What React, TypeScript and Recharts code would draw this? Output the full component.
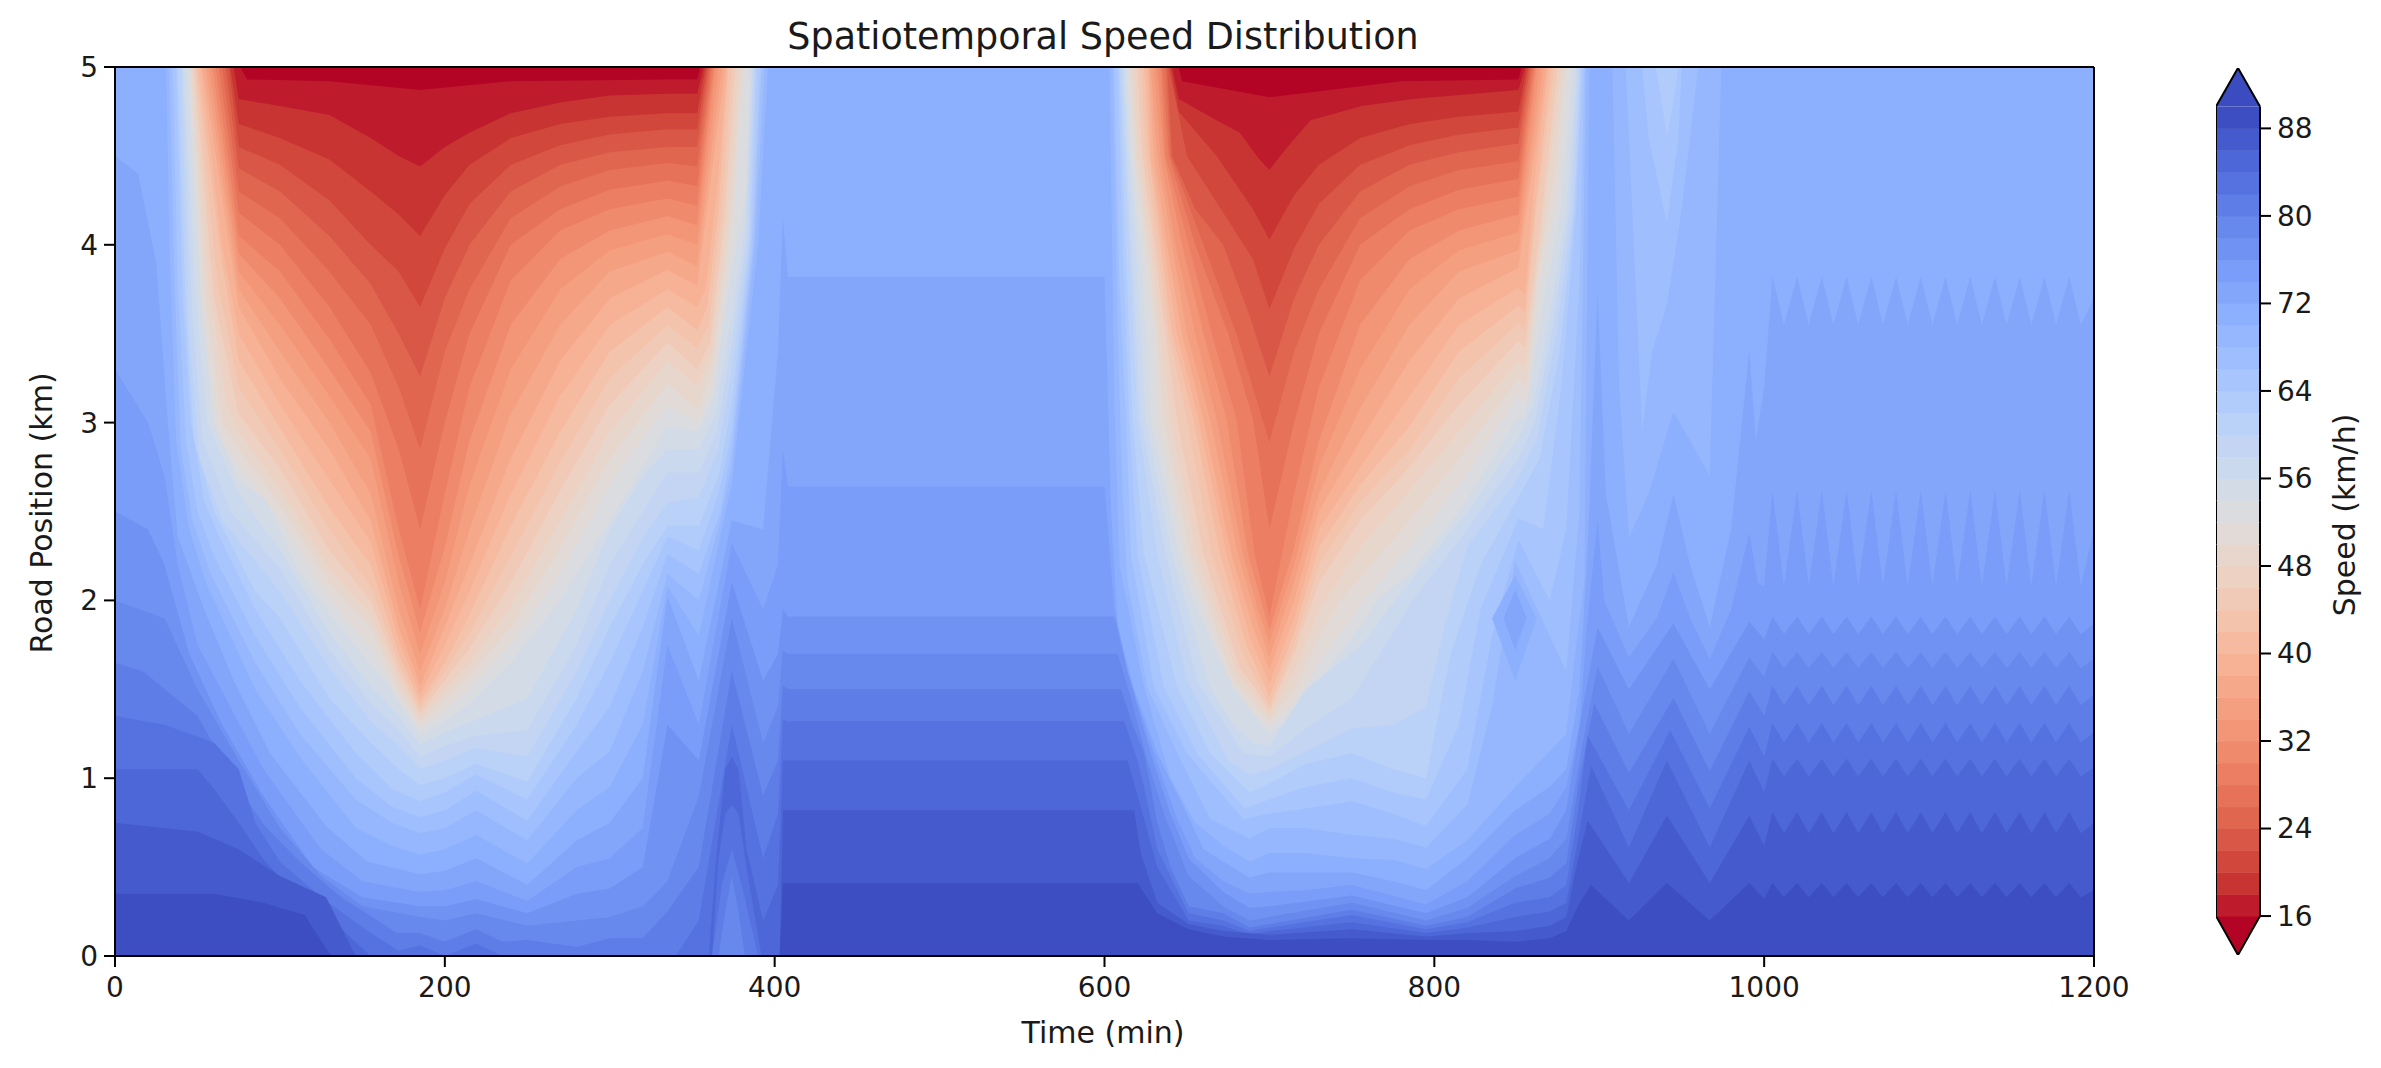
import React from "react";
import { Area, Bar, ComposedChart, ReferenceLine, XAxis, YAxis } from "recharts";

// contour lines: flat lists of time, position
const L16 = [0,5,76,5,80,4.93,130,4.92,185,4.87,240,4.92,335,4.93,353,4.93,355,5,645,5,647,4.92,700,4.83,780,4.92,851,4.93,853,5,1200,5];
const L18 = [0,5,72,5,75,4.82,100,4.78,130,4.73,155,4.6,172,4.5,185,4.44,200,4.55,215,4.63,240,4.74,270,4.8,300,4.84,335,4.85,353,4.85,357,5,641,5,645,4.82,664,4.72,682,4.63,694,4.48,700,4.42,710,4.54,725,4.7,756,4.78,787,4.82,851,4.87,855,5,1200,5];
const L20 = [0,5,70,5,75,4.68,100,4.6,130,4.48,155,4.3,172,4.17,185,4.05,200,4.28,215,4.45,240,4.6,270,4.68,300,4.72,335,4.74,353,4.74,358,5,640,5,645,4.75,668,4.5,690,4.2,700,4.03,715,4.28,730,4.45,755,4.6,785,4.68,815,4.72,851,4.75,856,5,1200,5];
const L22 = [0,5,69,5,75,4.55,100,4.45,130,4.25,155,4,172,3.85,185,3.65,200,3.98,215,4.23,240,4.45,270,4.56,300,4.62,335,4.65,353,4.65,359,5,639,5,650,4.5,672,4.18,690,3.92,700,3.64,715,3.98,730,4.23,755,4.45,785,4.56,815,4.62,851,4.66,857,5,1200,5];
const L24 = [0,5,67,5,75,4.43,100,4.3,130,4.05,155,3.78,172,3.5,185,3.26,200,3.7,215,4,240,4.3,270,4.45,300,4.52,335,4.55,353,4.55,360,5,638,5,641,4.5,655,4.2,672,4,688,3.6,700,3.26,715,3.7,730,4,755,4.3,785,4.45,815,4.52,851,4.57,858,5,1200,5];
const L26 = [0,5,65,5,75,4.3,100,4.15,130,3.85,155,3.55,172,3.2,185,2.85,200,3.4,215,3.75,240,4.15,270,4.33,300,4.42,335,4.46,353,4.44,361,5,637,5,640,4.5,660,4,680,3.5,700,2.89,715,3.4,730,3.75,755,4.15,785,4.33,815,4.42,851,4.47,859,5,1200,5];
const L28 = [0,5,63,5,75,4.18,100,4,130,3.65,155,3.28,172,2.85,185,2.4,200,3,215,3.5,240,4,270,4.2,300,4.31,335,4.36,353,4.33,362,5,635,5,639,4.5,655,4,675,3.5,690,3.02,700,2.4,715,3,730,3.5,755,4,785,4.2,815,4.31,851,4.37,860,5,1200,5];
const L30 = [0,5,61,5,75,4.05,100,3.85,130,3.47,155,3.1,172,2.4,185,1.95,200,2.6,215,3.2,240,3.8,270,4.08,300,4.2,335,4.26,353,4.22,363,5,634,5,637,4.5,651,4,665,3.5,680,3.02,691,2.26,700,1.91,715,2.6,730,3.2,755,3.8,785,4.08,815,4.2,851,4.27,861,5,1200,5];
const L32 = [0,5,59,5,75,3.95,100,3.7,130,3.3,155,2.95,172,2.25,185,1.82,200,2.3,215,2.9,240,3.55,270,3.92,300,4.08,335,4.16,353,4.11,364,5,632,5,636,4.5,647,4,660,3.5,674,3.02,687,2.26,700,1.83,715,2.3,730,2.9,755,3.55,785,3.92,815,4.08,851,4.17,862,5,1200,5];
const L34 = [0,5,57,5,75,3.85,100,3.55,130,3.15,155,2.8,172,2.1,185,1.7,200,2.1,215,2.65,240,3.3,270,3.75,300,3.97,335,4.06,353,4,366,5,630,5,634,4.5,643,4,655,3.5,668,3.02,684,2.26,693,1.95,700,1.76,715,2.2,730,2.75,755,3.3,785,3.75,815,3.97,851,4.07,864,5,1200,5];
const L36 = [0,5,55,5,75,3.75,100,3.4,130,3,155,2.6,172,1.95,185,1.6,200,1.95,215,2.4,240,3.05,270,3.55,300,3.85,335,3.96,353,3.88,368,5,628,5,632,4.5,641,4,650,3.5,664,3.02,681,2.26,692,1.9,700,1.68,715,2.1,730,2.6,755,3.08,785,3.55,815,3.85,851,3.97,866,5,1200,5];
const L38 = [0,5,53,5,75,3.65,100,3.25,130,2.85,155,2.45,172,1.85,185,1.52,200,1.85,215,2.2,240,2.8,270,3.35,300,3.7,335,3.86,353,3.77,370,5,627,5,630,4.5,638,4,647,3.5,660,3.02,677,2.26,690,1.85,700,1.61,715,2,730,2.5,755,2.9,785,3.35,815,3.7,851,3.87,868,5,1200,5];
const L40 = [0,5,52,5,65,4,75,3.5,100,3.1,130,2.68,155,2.33,172,1.78,185,1.47,200,1.75,215,2.05,240,2.6,270,3.15,300,3.55,335,3.75,353,3.65,358,3.75,365,4.3,371,5,626,5,628,4.5,636,4,644,3.5,657,3.02,674,2.26,688,1.8,700,1.53,715,1.9,730,2.4,755,2.75,785,3.15,815,3.55,851,3.76,855,3.72,860,4.3,869,5,1200,5];
const L42 = [0,5,50,5,64,3.95,75,3.35,100,2.97,130,2.52,155,2.2,172,1.7,185,1.43,200,1.65,215,1.92,240,2.42,270,2.95,300,3.4,335,3.65,353,3.52,359,3.65,366,4.2,372,5,624,5,627,4.5,634,4,641,3.5,654,3.02,670,2.26,686,1.75,700,1.46,715,1.82,730,2.3,755,2.65,785,2.98,815,3.4,851,3.66,855,3.62,861,4.2,871,5,1200,5];
const L44 = [0,5,49,5,62,3.8,75,3.2,100,2.85,130,2.4,155,2.08,172,1.65,185,1.4,200,1.6,215,1.82,240,2.25,270,2.78,300,3.25,335,3.55,353,3.42,360,3.55,368,4.2,374,5,622,5,625,4.5,632,4,639,3.5,650,3.02,665,2.26,684,1.7,700,1.41,715,1.75,730,2.2,755,2.55,785,2.85,815,3.25,851,3.56,855,3.52,862,4.2,873,5,1200,5];
const L46 = [0,5,48,5,60,3.7,75,3.05,100,2.74,130,2.28,155,2,172,1.6,185,1.37,200,1.55,215,1.73,240,2.1,270,2.62,300,3.1,335,3.45,353,3.3,361,3.45,370,4.2,376,5,620,5,623,4.5,630,4,637,3.5,644,3.02,660,2.26,682,1.62,692,1.5,700,1.38,715,1.7,730,2.1,755,2.45,785,2.75,815,3.1,851,3.46,855,3.42,863,4,875,5,1200,5];
const L48 = [0,5,47,5,57,3.75,68,3.1,75,2.95,100,2.63,130,2.18,155,1.92,172,1.55,185,1.34,200,1.5,215,1.65,240,1.97,270,2.45,300,2.95,335,3.35,353,3.2,362,3.4,372,4.2,378,5,618,5,621,4.5,628,4,634,3.5,640,3.02,656,2.26,680,1.6,688,1.51,700,1.35,715,1.6,730,1.95,755,2.3,785,2.62,815,2.95,851,3.35,855,3.3,863,3.9,877,5,1200,5];
const L50 = [0,5,46,5,55,3.7,65,3,75,2.85,100,2.54,130,2.1,155,1.85,172,1.5,185,1.31,200,1.45,215,1.58,240,1.85,270,2.3,300,2.8,335,3.22,353,3.07,362,3.3,373,4.1,380,5,616,5,619,4.5,626,4,632,3.5,636,3.02,652,2.26,678,1.56,685,1.48,700,1.32,715,1.5,730,1.8,743,2,785,2.45,815,2.8,851,3.25,856,3.2,862,3.8,873,4.4,879,5,1200,5];
const L52 = [0,5,45,5,53,3.6,62,2.95,75,2.75,100,2.46,130,2,155,1.74,172,1.45,185,1.28,200,1.38,215,1.5,240,1.75,270,2.15,300,2.65,335,3.1,353,3,363,3.2,373,3.9,382,5,615,5,618,4.5,624,4,630,3.5,632,3.02,648,2.26,676,1.54,690,1.37,700,1.29,715,1.42,730,1.65,755,1.97,785,2.3,815,2.65,851,3.15,856,3.1,864,3.75,875,4.3,881,5,1200,5];
const L54 = [0,5,44,5,52,3.7,60,3,75,2.67,91,2.57,112,2.16,128,1.95,146,1.74,165,1.53,185,1.24,200,1.32,215,1.42,240,1.65,270,2,300,2.45,335,2.98,354,2.95,363,3.15,372,3.75,383,4.3,385,5,613.5,5,616,4.5,621,4,626,3.4,628,3.02,645,2.26,651,2.07,668,1.7,678,1.51,693,1.33,700,1.25,715,1.36,730,1.55,755,1.85,765,2,785,2.15,815,2.5,851,3.03,855,3.03,866,3.65,877,4.22,884,5,1200,5];
const L56 = [0,5,42,5,49,3.7,56,3,75,2.6,100,2.28,130,1.82,155,1.52,172,1.35,185,1.19,200,1.26,219,1.33,250,1.45,280,1.95,300,2.4,320,2.7,335,2.85,354,2.85,364,3.05,374,3.6,382,4.1,386,5,612,5,615,4.5,619,4,625,3.02,641,2.26,664,1.51,678,1.3,690,1.2,700,1.18,722,1.5,756,1.75,776,2,820,2.5,851,2.91,860,3.1,870,3.6,880,4.2,886,5,1200,5];
const L58 = [0,5,41,5,47,3.6,53,2.9,70,2.5,100,2.18,130,1.72,155,1.42,172,1.27,185,1.12,200,1.18,219,1.24,250,1.27,280,1.75,300,2.2,320,2.5,335,2.72,354,2.72,365,2.95,374,3.45,383,4.05,387,5,611,5,614,4.4,622,3.02,637,2.26,656,1.55,684,1.14,700,1.12,722,1.28,750,1.45,787,2,820,2.4,851,2.8,861,3,872,3.55,882,4.2,887,5,1200,5];
const L60 = [0,5,40,5,45,3.5,51,2.8,65,2.45,100,2.05,130,1.62,155,1.32,172,1.18,185,1.05,200,1.1,219,1.17,250,1.12,280,1.6,300,2,320,2.35,335,2.55,354,2.58,366,2.85,374,3.3,384,4,388,5,610,5,613,4.4,620,3.02,632,2.26,650,1.55,675,1.1,688,1.02,700,1.05,722,1.15,750,1.28,775,1.3,795,1.4,806,1.85,820,2.3,851,2.69,862,2.9,874,3.5,884,4.2,888,5,1200,5];
const L62 = [0,5,38,5,43,3.6,48,2.9,60,2.5,85,2.05,100,1.9,130,1.45,155,1.2,172,1.05,185,.96,200,1,219,1.08,250,.98,280,1.45,300,1.85,320,2.2,335,2.42,354,2.42,366,2.7,374,3.1,385,4,389,5,609,5,612,4.2,617,3.02,624,2.26,644,1.51,664,1.14,688,.92,700,.97,722,1.08,750,1.14,775,1.05,795,1,810,1.7,828,2.2,851,2.58,864,2.8,876,3.4,885,4.2,889,5,1200,5];
const L64 = [0,5,37,5,41,3.69,46,3,54,2.56,63,2.36,85,1.95,112,1.55,146,1.14,168,.94,185,.87,200,.92,219,1.02,250,.88,280,1.3,300,1.65,320,2.05,335,2.36,354,2.28,366,2.6,374,2.95,386,4,391,5,608,5,611,4,615,3.02,620,2.26,636,1.51,656,1.14,685,.83,700,.88,722,.95,750,1,775,.92,795,.88,815,1.3,828,1.95,851,2.46,866,2.4,877,3.2,886,4.2,890,5,934,5,938,4.8,941,4.6,945,4.8,948,5,1200,5];
const L66 = [0,5,35,5,38,3.8,43,2.9,50,2.5,60,2.25,85,1.8,112,1.4,146,1,168,.84,185,.78,200,.82,219,.93,250,.76,280,1.15,300,1.4,320,1.85,335,2.26,354,2.15,367,2.5,374,2.85,387,4,392,5,606,5,609,3.8,613,3.02,616,2.26,630,1.51,650,1.14,684,.77,700,.8,722,.83,750,.87,775,.8,795,.73,820,1.05,835,1.8,851,2.34,870,2,880,2.4,888,3.8,891,5,926,5,930,4.6,941,4.12,948,4.6,950,5,1200,5];
const L68 = [0,5,33,5,36,3.8,40,2.85,47,2.45,58,2.15,85,1.65,112,1.25,146,.88,168,.75,185,.69,200,.72,219,.82,250,.65,280,1,300,1.15,320,1.6,335,2.15,354,2,367,2.45,374,2.75,388,4,394,5,605,5,608,3.5,611,2.6,614,2.1,626,1.51,644,1.14,664,.77,688,.66,700,.72,722,.72,750,.68,775,.66,795,.61,820,.85,835,1.4,849,2.22,870,1.8,880,1.6,888,2.5,892,5,916,5,921,4,926,2.95,932,3.4,941,3.66,950,4.2,960,5,1200,5];
const L70 = [0,5,31,5,33,4,37,2.9,45,2.4,55,2.1,85,1.5,112,1.12,146,.72,168,.62,185,.57,200,.6,219,.68,250,.52,280,.82,300,.95,320,1.3,335,2.08,354,1.8,368,2.4,374,2.65,390,4,396,5,603,5,606,3.1,609,2.2,624,1.51,640,1,655,.75,672,.62,688,.53,700,.58,722,.58,750,.55,775,.54,795,.49,820,.65,849,.95,870,1.15,880,1.25,888,1.9,891,2.1,894,5,908,5,912,3.2,918,2.35,930,2.6,945,3.06,955,2.9,967,2.7,971,4,974,5,1200,5];
const L72 = [0,4.5,14,4.4,25,3.9,32,3,38,2.36,54,1.95,72,1.55,94,1.14,128,.73,153,.53,185,.46,200,.48,219,.55,250,.4,280,.65,300,.75,320,1,335,2.02,354,1.55,374,2.45,393,2.4,402,3.4,405,4.15,408,3.82,600,3.82,604,2.5,608,1.85,618,1.5,632,1.14,650,.8,660,.6,672,.53,688,.44,700,.47,722,.47,750,.47,775,.42,795,.37,820,.55,849,.82,870,.95,880,1.05,888,1.5,893,2.3,899,3.73,904,2.6,918,1.85,935,2.2,945,2.6,955,2.2,967,1.85,980,2.4,991,3.41,995,2.9,1000,3.2];
const L74 = [0,3.3,20,3,30,2.7,38,2.2,50,1.75,70,1.4,90,1.05,125,.6,150,.42,185,.36,200,.37,219,.42,250,.31,280,.5,300,.55,320,.72,335,1.75,354,1.3,374,2.32,393,1.95,402,2.2,405,2.85,408,2.64,600,2.64,606,1.95,614,1.6,630,1.14,644,.77,655,.55,672,.42,688,.35,700,.36,722,.37,750,.4,795,.29,820,.42,849,.68,870,.8,880,.95,888,1.3,893,1.9,899,2.45,903,2,918,1.68,935,1.9,945,2.16,955,1.9,967,1.67,980,1.95,991,2.38,996,2.1,1000,2.08];
const L76 = [0,2.5,20,2.4,30,2.2,45,1.7,65,1.3,90,.9,120,.5,150,.33,185,.28,200,.28,219,.32,250,.24,280,.35,300,.38,320,.5,335,1.3,354,1.1,374,2.1,393,1.55,402,1.7,405,1.95,408,1.91,606,1.91,614,1.6,628,1.14,640,.8,651,.55,672,.36,688,.27,700,.28,750,.34,795,.24,820,.33,849,.55,870,.66,880,.82,890,1.4,899,1.85,918,1.5,945,1.87,967,1.5,991,1.88,1000,1.78];
const L78 = [0,2,30,1.9,50,1.5,75,1.1,100,.72,125,.45,150,.28,185,.22,200,.2,219,.24,250,.17,280,.2,300,.22,320,.28,335,.42,354,.9,374,1.9,393,1.2,402,1.4,405,1.72,408,1.7,608,1.7,616,1.45,626,1.1,636,.8,651,.45,672,.28,688,.2,700,.22,750,.3,795,.2,820,.27,849,.45,870,.55,880,.66,890,1.2,899,1.63,918,1.25,945,1.67,967,1.25,991,1.68,1000,1.57];
const L80 = [0,1.65,17,1.6,50,1.35,75,.94,91,.73,112,.53,137,.33,171,.13,185,.13,200,.08,219,.15,235,.08,250,.09,280,.05,300,.1,320,.1,335,.25,354,.5,374,1.6,393,.9,402,1.1,405,1.52,408,1.5,610,1.5,617,1.3,624,1.14,632,.75,640,.5,651,.28,672,.24,688,.16,700,.18,750,.26,795,.17,820,.22,849,.38,870,.44,880,.52,888,1,897,1.42,918,1.03,945,1.45,967,1.04,991,1.49,1000,1.35];
const L82 = [0,1.35,30,1.3,60,1.2,75,1.05,85,.75,100,.53,125,.33,155,.13,172,.03,185,.06,200,0,219,.07,235,0,340,0,354,.2,374,1.3,393,.55,402,.8,405,1.33,408,1.32,612,1.32,620,1.1,624,.95,632,.6,651,.24,672,.2,688,.14,700,.16,750,.23,795,.15,820,.19,849,.3,870,.33,880,.4,887,.8,893,1.24,918,.82,943,1.27,967,.83,991,1.29,1000,1.12];
const L84 = [0,1.05,50,1.05,60,.94,75,.75,91,.53,112,.33,140,.13,155,0,360,0,365,.6,370,1.05,374,1.12,378,1.05,383,.6,393,.2,402,.4,405,1.1,614,1.1,624,.77,632,.5,651,.2,672,.17,688,.12,700,.14,750,.19,795,.13,820,.16,849,.22,870,.25,880,.3,887,.65,895,1.07,918,.61,941,1.1,967,.61,991,1.1,1000,.92];
const L86 = [0,.75,50,.7,75,.6,100,.45,128,.33,146,0,403,0,405,.82,618,.82,622,.58,632,.3,651,.18,672,.14,700,.12,750,.15,795,.11,820,.13,849,.14,870,.17,880,.22,886,.5,893,.76,918,.41,941,.79,967,.41,991,.79,1000,.62];
const L88 = [0,.35,60,.35,90,.3,115,.23,131,0,403,0,405,.41,620,.41,632,.24,651,.15,672,.11,700,.09,750,.1,795,.09,820,.09,849,.08,870,.1,880,.14,887,.28,895,.4,918,.2,941,.41,967,.2,991,.41,1000,.32];

// the saw teeth after 1000 min
const toothTimes = [1005,1012,1020,1027,1035,1042,1050,1057,1065,1072,1080,1087,1095,1102,1110,1117,1125,1132,1140,1147,1155,1162,1170,1177,1185,1192,1200];
const teeth72 = [3.82,3.55,3.82,3.55,3.82,3.55,3.82,3.55,3.82,3.55,3.82,3.55,3.82,3.55,3.82,3.55,3.82,3.55,3.82,3.55,3.82,3.55,3.82,3.55,3.82,3.55,3.7];
const teeth74 = [2.62,2.08,2.62,2.08,2.62,2.08,2.62,2.08,2.62,2.08,2.62,2.08,2.62,2.08,2.62,2.08,2.62,2.08,2.62,2.08,2.62,2.08,2.62,2.08,2.62,2.08,2.4];
const teeth76 = [1.91,1.81,1.91,1.81,1.91,1.81,1.91,1.81,1.91,1.81,1.91,1.81,1.91,1.81,1.91,1.81,1.91,1.81,1.91,1.81,1.91,1.81,1.91,1.81,1.91,1.81,1.87];
const teeth78 = [1.71,1.62,1.71,1.62,1.71,1.62,1.71,1.62,1.71,1.62,1.71,1.62,1.71,1.62,1.71,1.62,1.71,1.62,1.71,1.62,1.71,1.62,1.71,1.62,1.71,1.62,1.67];
const teeth80 = [1.52,1.41,1.52,1.41,1.52,1.41,1.52,1.41,1.52,1.41,1.52,1.41,1.52,1.41,1.52,1.41,1.52,1.41,1.52,1.41,1.52,1.41,1.52,1.41,1.52,1.41,1.47];
const teeth82 = [1.31,1.2,1.31,1.2,1.31,1.2,1.31,1.2,1.31,1.2,1.31,1.2,1.31,1.2,1.31,1.2,1.31,1.2,1.31,1.2,1.31,1.2,1.31,1.2,1.31,1.2,1.26];
const teeth84 = [1.11,1.01,1.11,1.01,1.11,1.01,1.11,1.01,1.11,1.01,1.11,1.01,1.11,1.01,1.11,1.01,1.11,1.01,1.11,1.01,1.11,1.01,1.11,1.01,1.11,1.01,1.06];
const teeth86 = [.81,.69,.81,.69,.81,.69,.81,.69,.81,.69,.81,.69,.81,.69,.81,.69,.81,.69,.81,.69,.81,.69,.81,.69,.81,.69,.75];
const teeth88 = [.41,.33,.41,.33,.41,.33,.41,.33,.41,.33,.41,.33,.41,.33,.41,.33,.41,.33,.41,.33,.41,.33,.41,.33,.41,.33,.37];

// closed pockets that a single contour per column can't show: time, low, high
const pocket82 = [362,0,0,366,0,.55,370,0,.8,374,0,.85,378,0,.8,382,0,.55,392,0,0];
const pocket80 = [362,0,0,368,0,.4,374,0,.6,380,0,.4,390,0,0];
const pocket78 = [366,0,0,370,0,.25,374,0,.45,378,0,.25,382,0,0];
const blob70 = [835,1.9,1.9,849,1.55,2.14,862,1.9,1.9];
const blob72 = [842,1.9,1.9,849,1.72,2.06,856,1.9,1.9];

const contours: [number, number[], number[]?][] = [
  [16, L16],[18, L18],[20, L20],[22, L22],[24, L24],[26, L26],[28, L28],[30, L30],[32, L32],
  [34, L34],[36, L36],[38, L38],[40, L40],[42, L42],[44, L44],[46, L46],[48, L48],[50, L50],
  [52, L52],[54, L54],[56, L56],[58, L58],[60, L60],[62, L62],[64, L64],[66, L66],[68, L68],[70, L70],
  [72, L72, teeth72],[74, L74, teeth74],[76, L76, teeth76],[78, L78, teeth78],[80, L80, teeth80],
  [82, L82, teeth82],[84, L84, teeth84],[86, L86, teeth86],[88, L88, teeth88],
];
const pockets: [number, number[]][] = [[82, pocket82],[80, pocket80],[78, pocket78],[70, blob70],[72, blob72]];

const timeTicks = [0, 200, 400, 600, 800, 1000, 1200];
const roadTicks = [0, 1, 2, 3, 4, 5];
const speedTicks = [16, 24, 32, 40, 48, 56, 64, 72, 80, 88];

// coolwarm stops
const STOPS = [
  [59,76,192],[78,105,218],[98,130,234],[119,155,247],[141,176,254],[163,193,254],[184,208,249],[204,217,238],
  [221,221,221],[236,211,197],[244,195,171],[247,174,145],[244,152,122],[236,127,99],[222,97,77],[203,60,51],[180,4,38],
];
function bandColor(level: number) {
  const t = Math.max(0, Math.min(1, 1 - ((level - 16) / 2 + 1) / 37.2)) * 16;
  const i = Math.min(15, Math.floor(t));
  const f = t - i;
  const c = STOPS[i].map((v, k) => Math.round(v + (STOPS[i + 1][k] - v) * f));
  return `rgb(${c[0]},${c[1]},${c[2]})`;
}

function toRows(list: number[], teeth?: number[]) {
  const rows: { t: number; y: number }[] = [];
  for (let i = 0; i < list.length; i += 2) rows.push({ t: list[i], y: list[i + 1] });
  if (teeth) teeth.forEach((y, i) => rows.push({ t: toothTimes[i], y }));
  return rows;
}
function toRange(list: number[]) {
  const rows: { t: number; range: number[] }[] = [];
  for (let i = 0; i < list.length; i += 3) rows.push({ t: list[i], range: [list[i + 1], list[i + 2]] });
  return rows;
}

const fullRow = [{ t: 0, y: 5 }, { t: 1200, y: 5 }];
const FONT = "DejaVu Sans";
const tickStyle = { fontFamily: FONT, fontSize: 28, fill: "#1a1a1a" };
const tickLine = { stroke: "#000", strokeWidth: 2 };

// colour bar
const barLow = 12.44;
const barHigh = 93.52;
const barRow: Record<string, any> = { name: "speed", base: barLow, under: 16 - barLow, over: barHigh - 90 };
contours.forEach(([l]) => (barRow["b" + l] = 2));

function BandShape(p: any) {
  return (
    <g>
      <rect x={p.x} y={p.y} width={p.width} height={p.height + 0.5} fill={p.fill} />
      <line x1={p.x} x2={p.x} y1={p.y} y2={p.y + p.height + 0.5} stroke="#000" strokeWidth={2} />
      <line x1={p.x + p.width} x2={p.x + p.width} y1={p.y} y2={p.y + p.height + 0.5} stroke="#000" strokeWidth={2} />
    </g>
  );
}
function UnderShape(p: any) {
  const pts = `${p.x},${p.y} ${p.x + p.width / 2},${p.y + p.height} ${p.x + p.width},${p.y}`;
  return <polyline points={pts} fill={p.fill} stroke="#000" strokeWidth={2} />;
}
function OverShape(p: any) {
  const pts = `${p.x},${p.y + p.height} ${p.x + p.width / 2},${p.y} ${p.x + p.width},${p.y + p.height}`;
  return <polyline points={pts} fill={p.fill} stroke="#000" strokeWidth={2} />;
}

export default function App() {
  return (
    <div style={{ position: "relative", width: 2381, height: 1068, margin: -8, background: "#fff", overflow: "hidden" }}>
      <div style={{ position: "absolute", left: 0, top: 0 }}>
        <ComposedChart width={2200} height={1068} margin={{ top: 67, right: 106, bottom: 62, left: 55 }}>
          <XAxis
            dataKey="t"
            type="number"
            domain={[0, 1200]}
            ticks={timeTicks}
            height={50}
            allowDuplicatedCategory={false}
            tick={tickStyle}
            tickSize={11}
            tickLine={tickLine}
            axisLine={{ stroke: "#000", strokeWidth: 2 }}
            tickMargin={10}
          />
          <YAxis
            type="number"
            domain={[0, 5]}
            ticks={roadTicks}
            width={60}
            tick={tickStyle}
            tickSize={11}
            tickLine={tickLine}
            axisLine={{ stroke: "#000", strokeWidth: 2 }}
            tickMargin={6}
            allowDataOverflow
          />
          <Area data={fullRow} dataKey="y" type="linear" stroke="none" fill={bandColor(14)} fillOpacity={1} isAnimationActive={false} dot={false} activeDot={false} />
          {contours.map(([level, list, teeth]) => (
            <Area
              key={level}
              data={toRows(list, teeth)}
              dataKey="y"
              type="linear"
              stroke="none"
              fill={bandColor(level)}
              fillOpacity={1}
              isAnimationActive={false}
              dot={false}
              activeDot={false}
            />
          ))}
          {pockets.map(([level, list], i) => (
            <Area
              key={"p" + i}
              data={toRange(list)}
              dataKey="range"
              type="linear"
              stroke="none"
              fill={bandColor(level)}
              fillOpacity={1}
              isAnimationActive={false}
              dot={false}
              activeDot={false}
            />
          ))}
          <ReferenceLine y={5} stroke="#000" strokeWidth={2} />
          <ReferenceLine x={1200} stroke="#000" strokeWidth={2} />
          <ReferenceLine x={0} stroke="#000" strokeWidth={2} />
          <ReferenceLine y={0} stroke="#000" strokeWidth={2} />
          <text x={1103} y={38} textAnchor="middle" dominantBaseline="middle" fontFamily={FONT} fontSize={36.5} fill="#1a1a1a">
            Spatiotemporal Speed Distribution
          </text>
          <text x={1103} y={1034} textAnchor="middle" dominantBaseline="middle" fontFamily={FONT} fontSize={30} fill="#1a1a1a">
            Time (min)
          </text>
          <text x={43} y={513} transform="rotate(-90 43 513)" textAnchor="middle" dominantBaseline="middle" fontFamily={FONT} fontSize={30} fill="#1a1a1a">
            Road Position (km)
          </text>
        </ComposedChart>
      </div>
      <div style={{ position: "absolute", left: 2216, top: 68 }}>
        <ComposedChart width={165} height={887} data={[barRow]} margin={{ top: 0, right: 0, bottom: 0, left: 0 }} barCategoryGap={0} barGap={0}>
          <XAxis dataKey="name" hide />
          <YAxis
            orientation="right"
            type="number"
            domain={[barLow, barHigh]}
            ticks={speedTicks}
            width={121}
            axisLine={false}
            tick={tickStyle}
            tickSize={11}
            tickLine={tickLine}
            tickMargin={6}
            allowDataOverflow
          />
          <Bar dataKey="base" stackId="c" fill="none" isAnimationActive={false} />
          <Bar dataKey="under" stackId="c" fill={bandColor(14)} shape={UnderShape} isAnimationActive={false} />
          {contours.map(([level]) => (
            <Bar key={level} dataKey={"b" + level} stackId="c" fill={bandColor(level)} shape={BandShape} isAnimationActive={false} />
          ))}
          <Bar dataKey="over" stackId="c" fill={bandColor(90)} shape={OverShape} isAnimationActive={false} />
          <text x={130} y={447} transform="rotate(-90 130 447)" textAnchor="middle" dominantBaseline="middle" fontFamily={FONT} fontSize={30} fill="#1a1a1a">
            Speed (km/h)
          </text>
        </ComposedChart>
      </div>
    </div>
  );
}
